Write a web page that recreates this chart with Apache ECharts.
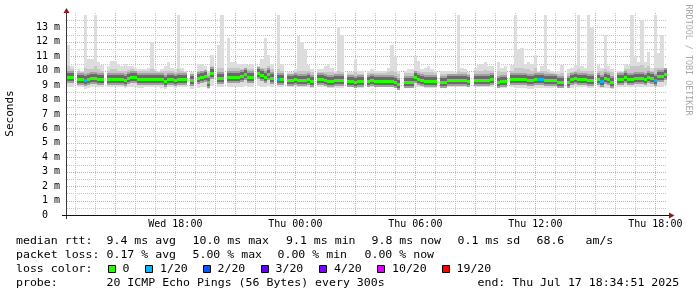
<!DOCTYPE html>
<html><head><meta charset="utf-8">
<script src="https://cdn.jsdelivr.net/npm/echarts@6/dist/echarts.min.js"></script>
<style>html,body{margin:0;padding:0;background:#fff}#c{width:697px;height:297px}</style>
</head><body><div id="c"></div>
<script>
// ---- time base: minutes since Wed 00:00; graph spans Wed 12:35 .. Thu 18:35, 10 min per point
const startMin = 755;
const endMin = 2555;
const stepMin = 10;

// median RTT (ms) per 10-minute step, null = no data
const med = [9.57,9.55,null,9.46,9.46,9.33,9.46,9.48,9.48,9.46,
9.46,null,9.42,9.42,9.42,9.42,9.42,9.35,9.5,9.57,
9.55,9.42,9.4,9.42,9.46,9.46,9.46,9.45,9.4,9.3,
9.42,9.42,9.35,9.46,9.46,9.46,null,9.33,null,9.5,
9.55,9.65,9.2,9.85,null,9.5,9.52,null,9.55,9.55,
9.57,9.57,9.6,9.8,9.57,9.57,null,9.85,9.7,9.57,
9.75,9.5,null,9.4,9.45,null,9.35,9.33,9.4,9.36,
9.36,9.38,9.4,9.3,null,9.45,9.45,9.35,9.3,9.3,
9.33,9.33,9.33,null,9.3,9.28,9.25,9.3,9.3,null,
9.3,9.33,9.3,9.28,9.3,9.28,9.3,9.3,9.25,9.1,
null,9.25,9.25,9.25,9.55,9.45,9.38,9.3,9.3,9.3,
9.3,null,9.25,9.25,9.33,9.33,9.33,9.33,9.33,9.33,
9.3,null,9.33,9.36,9.36,9.36,9.36,9.46,null,9.22,
9.3,9.3,null,9.46,9.4,9.4,9.4,9.4,9.38,9.35,
9.46,9.4,9.4,9.38,9.35,9.35,9.33,9.25,9.25,null,
9.22,9.4,9.5,9.45,9.4,9.4,9.35,9.35,null,9.45,
9.3,9.5,9.42,9.25,null,9.4,9.4,9.55,9.4,9.45,
9.5,9.5,9.5,9.4,9.55,9.5,9.35,9.6,9.6,9.75];

// slowest ping of each step (top of smoke)
const hi = [11.76,10.3,null,10.14,10.0,13.83,10.84,10.84,13.83,10.6,
10.4,null,10.3,10.7,10.7,10.5,10.3,10.5,10.3,10.3,
10.2,10.1,10.14,10.14,10.2,12.0,10.1,10.0,10.1,10.3,
10.6,10.2,10.14,13.83,10.2,10.0,null,9.9,null,10.5,
10.5,10.3,10.0,11.07,null,11.76,13.83,null,12.3,10.6,
10.6,10.5,10.5,10.5,10.4,10.5,null,10.3,10.84,12.3,
11.06,10.5,null,13.83,10.5,null,9.9,9.9,10.1,12.4,
12.0,11.5,10.4,10.1,null,10.14,10.1,10.3,10.5,10.2,
10.0,13.0,12.5,null,9.9,9.9,10.84,10.0,9.95,null,
10.0,10.1,10.0,10.0,10.0,10.0,10.2,11.76,11.0,10.0,
null,10.0,10.1,10.14,11.0,10.7,10.1,10.2,10.3,10.1,
10.0,null,9.95,9.95,9.95,9.95,9.9,13.83,10.2,10.1,
9.9,null,10.2,10.4,10.5,10.6,10.3,10.3,null,10.6,
10.2,10.3,null,10.4,13.83,11.5,11.6,10.5,10.6,10.5,
11.07,10.0,10.3,13.83,10.1,10.0,9.9,9.95,10.4,null,
10.14,10.2,10.4,13.83,10.3,10.2,13.83,13.0,null,10.4,
10.2,12.5,10.3,10.1,null,10.0,10.0,10.5,10.4,13.83,
11.0,10.6,13.5,10.6,11.3,10.2,13.83,11.2,12.5,10.0];

// upper edge of the denser smoke
const up = [10.3,10.1,null,10.0,9.9,10.2,10.1,10.1,10.3,10.1,
10.0,null,9.95,10.1,10.1,10.0,9.95,10.0,10.05,10.1,
10.0,9.95,10.0,10.0,9.95,10.1,9.95,9.9,9.95,9.95,
10.0,9.95,9.9,10.1,9.95,9.9,null,9.8,null,10.0,
10.0,10.05,9.85,10.3,null,10.2,10.2,null,10.2,10.2,
10.2,10.2,10.15,10.2,10.1,10.1,null,10.1,10.2,10.2,
10.3,10.1,null,10.1,10.0,null,9.8,9.8,9.9,10.0,
10.0,10.0,9.95,9.9,null,9.9,9.9,9.9,9.9,9.9,
9.85,9.95,9.9,null,9.8,9.8,9.9,9.8,9.8,null,
9.85,9.85,9.85,9.85,9.85,9.85,9.9,10.0,9.9,9.8,
null,9.85,9.85,9.85,10.0,9.95,9.9,9.9,9.9,9.9,
9.85,null,9.8,9.8,9.8,9.8,9.8,9.95,9.9,9.9,
9.8,null,9.95,10.0,10.0,10.05,10.0,10.0,null,9.95,
9.9,9.9,null,10.0,10.2,10.2,10.2,10.1,10.1,10.0,
10.2,9.9,9.95,10.0,9.9,9.85,9.8,9.8,9.85,null,
9.85,9.9,10.0,10.1,10.0,9.95,10.0,10.0,null,10.0,
9.95,10.1,10.0,9.9,null,9.9,9.9,10.1,10.1,10.3,
10.3,10.3,10.4,10.2,10.3,10.0,10.2,10.2,10.2,9.95];

// fastest ping of each step (bottom of smoke)
const lo = [8.85,8.85,null,8.85,8.85,8.75,8.8,8.85,8.85,8.85,
8.85,null,8.85,8.85,8.85,8.85,8.85,8.8,8.85,8.9,
8.9,8.8,8.8,8.85,8.85,8.85,8.85,8.85,8.8,8.75,
8.85,8.85,8.8,8.85,8.85,8.85,null,8.75,null,8.8,
8.85,8.85,8.7,8.95,null,8.85,8.85,null,8.85,8.9,
8.9,8.9,8.9,8.95,8.9,8.9,null,8.95,8.9,8.9,
8.95,8.85,null,8.85,8.85,null,8.9,8.9,8.85,8.85,
8.85,8.85,8.85,8.8,null,8.9,8.9,8.85,8.8,8.8,
8.8,8.8,8.8,null,8.85,8.85,8.8,8.8,8.8,null,
8.85,8.85,8.85,8.85,8.85,8.85,8.85,8.85,8.8,8.7,
null,8.85,8.85,8.85,8.85,8.85,8.85,8.8,8.8,8.8,
8.8,null,8.85,8.85,8.85,8.85,8.85,8.85,8.85,8.85,
8.85,null,8.85,8.85,8.85,8.85,8.85,8.85,null,8.8,
8.8,8.8,null,8.85,8.8,8.8,8.8,8.8,8.75,8.75,
8.8,8.8,8.8,8.8,8.8,8.8,8.85,8.8,8.8,null,
8.8,8.8,8.85,8.85,8.85,8.85,8.8,8.8,null,8.85,
8.8,8.8,8.8,8.75,null,8.85,8.85,8.85,8.85,8.85,
8.85,8.85,8.85,8.85,8.85,8.85,8.9,8.9,8.9,9.0];

// steps with packet loss: [step index, loss class index]
const lossSteps = [[5,1],[63,1],[141,1],[142,1],[160,1],[176,1]];

const lossLabels = ['0','1/20','2/20','3/20','4/20','10/20','19/20'];
const lossColors = ['#26ff00','#00b8ff','#0059ff','#5e00ff','#7e00ff','#dd00ff','#ff0000'];

const xTickValues = [1080,1440,1800,2160,2520];
const xTickLabels = ['Wed 18:00','Thu 00:00','Thu 06:00','Thu 12:00','Thu 18:00'];
const yMax = 14;

const rttStats = ['9.4 ms avg','10.0 ms max','9.1 ms min','9.8 ms now','0.1 ms sd','68.6','am/s'];
const lossStats = ['0.17 % avg','5.00 % max','0.00 % min','0.00 % now'];
const probeText = '20 ICMP Echo Pings (56 Bytes) every 300s';
const endText = 'end: Thu Jul 17 18:34:51 2025';

// ---- build
const lossOf = {};
lossSteps.forEach(p => { lossOf[p[0]] = p[1]; });
const smokeData = [];
med.forEach((m, i) => {
  if (m == null) return;
  smokeData.push([startMin + i * stepMin, m, hi[i], up[i], lo[i], lossOf[i] || 0]);
});

const gridData = [];
for (let h = 780; h < endMin; h += 60) gridData.push([h, 0, (h % 180 === 0) ? 1 : 0]);
for (let v = 0.5; v < yMax; v += 0.5) gridData.push([startMin, v, (v % 1 === 0) ? 3 : 2]);

const MONO = 'DejaVu Sans Mono';
const chart = echarts.init(document.getElementById('c'), null, {renderer: 'canvas', devicePixelRatio: 1});

function renderGrid(params, api) {
  const cs = params.coordSys;
  const kind = api.value(2);
  const color = (kind === 1 || kind === 3) ? '#e9a3a3' : '#c6c6c6';
  if (kind < 2) {
    const x = Math.round(api.coord([api.value(0), 0])[0]) + 0.5;
    return {type: 'line', shape: {x1: x, y1: cs.y, x2: x, y2: cs.y + cs.height},
      style: {stroke: color, lineWidth: 1, lineDash: [1, 1]}};
  }
  const y = Math.round(api.coord([startMin, api.value(1)])[1]) + 0.5;
  return {type: 'line', shape: {x1: cs.x, y1: y, x2: cs.x + cs.width, y2: y},
    style: {stroke: color, lineWidth: 1, lineDash: [1, 1]}};
}

function renderSmoke(params, api) {
  const t = api.value(0);
  const x0 = Math.round(api.coord([t, 0])[0]);
  const x1 = Math.round(api.coord([t + stepMin, 0])[0]);
  const w = x1 - x0;
  const yMed = Math.round(api.coord([t, api.value(1)])[1]);
  const yHi = Math.round(api.coord([t, api.value(2)])[1]);
  const yUp = Math.round(api.coord([t, api.value(3)])[1]);
  const yLo = Math.round(api.coord([t, api.value(4)])[1]);
  const c = lossColors[api.value(5)];
  return {type: 'group', children: [
    {type: 'rect', shape: {x: x0, y: yHi, width: w, height: yLo - yHi}, style: {fill: '#dddddd'}},
    {type: 'rect', shape: {x: x0, y: yUp, width: w, height: yMed + 6 - yUp}, style: {fill: '#c6c6c6'}},
    {type: 'rect', shape: {x: x0, y: yMed - 6, width: w, height: 12}, style: {fill: '#a0a0a0'}},
    {type: 'rect', shape: {x: x0, y: yMed - 4, width: w, height: 8}, style: {fill: '#6a6a6a'}},
    {type: 'rect', shape: {x: x0, y: yMed - 1, width: w, height: 3}, style: {fill: c}}
  ]};
}

// legend/text graphics
const txt = (x, y, s, extra) => Object.assign({
  type: 'text', x: x, y: y, scaleX: 1.05, silent: true,
  style: {text: s, x: 0, y: 0, fill: '#000', font: '11px "' + MONO + '"', verticalAlign: 'middle', align: 'left'}
}, extra || {});

const rows = [241.5, 255.5, 269.5, 283.5];
const rttX = [106.5, 192.5, 286, 371.5, 457.5, 536.5, 585.5];
const lossX = [106.5, 192.5, 277.5, 364.5];
const boxX = [108, 145, 203, 261, 319, 377, 442];
const boxLabelX = [122.5, 160, 217.5, 275.5, 334, 392, 456.5];

const graphics = [];
graphics.push(txt(16, rows[0], 'median rtt:'));
rttStats.forEach((s, k) => graphics.push(txt(rttX[k], rows[0], s)));
graphics.push(txt(16, rows[1], 'packet loss:'));
lossStats.forEach((s, k) => graphics.push(txt(lossX[k], rows[1], s)));
graphics.push(txt(16, rows[2], 'loss color:'));
lossLabels.forEach((s, k) => {
  graphics.push({type: 'rect', silent: true, shape: {x: boxX[k] + 0.5, y: 265.5, width: 7, height: 7},
    style: {fill: lossColors[k], stroke: '#000', lineWidth: 1}});
  graphics.push(txt(boxLabelX[k], rows[2], s));
});
graphics.push(txt(16, rows[3], 'probe:'));
graphics.push(txt(106.5, rows[3], probeText));
graphics.push(txt(477.5, rows[3], endText));

// axis title + watermark
graphics.push({type: 'text', x: 10.5, y: 113.5, rotation: Math.PI / 2, silent: true,
  style: {text: 'Seconds', fill: '#000', font: '11px "' + MONO + '"', align: 'center', verticalAlign: 'middle'}});
graphics.push({type: 'text', x: 688.5, y: 60, rotation: -Math.PI / 2, silent: true,
  style: {text: 'RRDTOOL / TOBI OETIKER', fill: '#a8a8a8', font: '8.4px "' + MONO + '"', align: 'center', verticalAlign: 'middle'}});

// axis lines and arrows (rrdtool style)
graphics.push({type: 'line', silent: true, shape: {x1: 66.5, y1: 11, x2: 66.5, y2: 219}, style: {stroke: '#3a3a3a', lineWidth: 1}});
graphics.push({type: 'line', silent: true, shape: {x1: 62, y1: 215.5, x2: 670, y2: 215.5}, style: {stroke: '#111', lineWidth: 1}});
graphics.push({type: 'polygon', silent: true, shape: {points: [[66.5, 8], [63.5, 13], [69.5, 13]]}, style: {fill: '#8b1c1c'}});
graphics.push({type: 'polygon', silent: true, shape: {points: [[669, 212.5], [674.5, 215.5], [669, 218.5]]}, style: {fill: '#8b1c1c'}});

chart.setOption({
  animation: false,
  backgroundColor: '#ffffff',
  grid: {left: 67, top: 13, width: 600, height: 202, containLabel: false},
  xAxis: {
    type: 'value', min: startMin, max: endMin,
    axisLine: {show: false}, axisTick: {show: false}, splitLine: {show: false},
    axisLabel: {
      customValues: xTickValues,
      formatter: v => { const k = xTickValues.indexOf(v); return k >= 0 ? xTickLabels[k] : ''; },
      fontFamily: MONO, fontSize: 10, color: '#000', margin: 4
    }
  },
  yAxis: {
    type: 'value', min: 0, max: yMax, interval: 1,
    axisLine: {show: false}, axisTick: {show: false}, splitLine: {show: false},
    axisLabel: {
      formatter: v => v >= yMax ? '' : (v === 0 ? '0  ' : v + ' m'),
      fontFamily: MONO, fontSize: 10, color: '#000', margin: 7
    }
  },
  series: [
    {type: 'custom', name: 'grid', silent: true, renderItem: renderGrid, data: gridData, encode: {x: 0, y: 1}, z: 1},
    {type: 'custom', name: 'median rtt', silent: true, renderItem: renderSmoke, data: smokeData,
      dimensions: ['t', 'median', 'max', 'upper', 'min', 'loss'], encode: {x: 0, y: 1}, z: 2}
  ],
  graphic: graphics
});
</script></body></html>
